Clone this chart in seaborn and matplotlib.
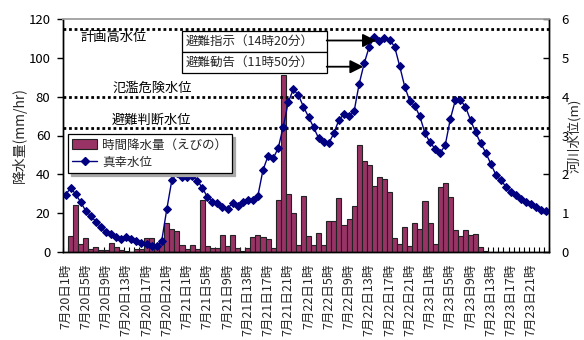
import numpy as np
import pandas as pd
import matplotlib
matplotlib.use("Agg")
import matplotlib.pyplot as plt
import seaborn as sns
from matplotlib.patches import Rectangle, Patch
from matplotlib.lines import Line2D

# ---------------- data ----------------
hour_index = list(range(96))  # 7/20 1時 ... 7/24 0時 (hourly)

tick_labels = [
    "7月20日1時", "7月20日5時", "7月20日9時", "7月20日13時", "7月20日17時", "7月20日21時",
    "7月21日1時", "7月21日5時", "7月21日9時", "7月21日13時", "7月21日17時", "7月21日21時",
    "7月22日1時", "7月22日5時", "7月22日9時", "7月22日13時", "7月22日17時", "7月22日21時",
    "7月23日1時", "7月23日5時", "7月23日9時", "7月23日13時", "7月23日17時", "7月23日21時",
]

rainfall = [
    0, 8, 24, 4, 7, 1.5, 2.5, 1, 1, 4.5, 2.5, 1, 0.5, 0, 1.5, 1.5,
    7, 7, 2, 6, 15, 12, 11, 3.5, 1.5, 3.5, 1.5, 27, 3, 2, 2, 9,
    3, 9, 2, 0.5, 2, 7.5, 8.5, 7.5, 6.5, 2, 27, 91, 30, 20, 3.5, 29,
    8, 3.5, 10, 3.5, 16, 16, 28, 14, 17, 23.5, 55, 47, 45, 34, 38.5, 37.5,
    31, 7, 4, 13, 3, 15, 12, 26.5, 15, 4, 33.5, 35.5, 28.5, 11.5, 8, 11.5,
    8.5, 9.5, 2.5, 0.7, 0, 0, 0, 0, 0, 0, 0, 0, 0, 0, 0, 0,
]

water_level = [
    1.47, 1.65, 1.49, 1.28, 1.06, 0.93, 0.78, 0.64, 0.51, 0.46, 0.39, 0.33, 0.38, 0.33, 0.28, 0.24,
    0.21, 0.15, 0.16, 0.29, 1.10, 1.85, 2.03, 1.94, 1.94, 1.96, 1.84, 1.66, 1.42, 1.30, 1.25, 1.15,
    1.12, 1.26, 1.18, 1.28, 1.34, 1.34, 1.45, 2.11, 2.47, 2.41, 2.67, 3.22, 3.86, 4.19, 4.04, 3.74,
    3.48, 3.21, 2.93, 2.82, 2.80, 3.06, 3.40, 3.55, 3.49, 3.62, 4.33, 4.86, 5.29, 5.53, 5.44, 5.50,
    5.46, 5.29, 4.79, 4.26, 3.89, 3.76, 3.49, 3.06, 2.82, 2.66, 2.55, 2.75, 3.42, 3.91, 3.91, 3.74,
    3.40, 3.08, 2.80, 2.56, 2.27, 1.99, 1.85, 1.68, 1.54, 1.47, 1.36, 1.30, 1.23, 1.15, 1.08, 1.05,
]

threshold_names = ["計画高水位", "氾濫危険水位", "避難判断水位"]
threshold_levels = [5.75, 4.0, 3.2]

event_labels = ["避難指示（14時20分）", "避難勧告（11時50分）"]
event_positions = [61 + 20 / 60, 58 + 50 / 60]  # hour index of 14:20 and 11:50 on 7/22

rain_label = "時間降水量（えびの）"
level_label = "真幸水位"

# ---------------- style ----------------
sns.set_theme(style="white")
plt.rcParams["font.family"] = ["Noto Sans CJK JP", "DejaVu Sans"]
plt.rcParams["axes.unicode_minus"] = False

BAR_COLOR = "#993366"
LINE_COLOR = "#000080"

df = pd.DataFrame({"idx": hour_index, "rain": rainfall, "level": water_level})

W, H = 584, 340
fig = plt.figure(figsize=(W / 100, H / 100), dpi=100)
L, R, T, B = 63, 549, 19, 252
ax = fig.add_axes([L / W, 1 - B / H, (R - L) / W, (B - T) / H])

sns.barplot(data=df, x="idx", y="rain", color=BAR_COLOR, saturation=1, width=1.0,
            edgecolor="#222222", linewidth=0.8, ax=ax)
ax.set_xlim(-0.5, len(hour_index) - 0.5)
ax.set_ylim(0, 120)
ax.set_yticks(range(0, 121, 20))
ax.set_xlabel("")
ax.set_ylabel("降水量(mm/hr)", fontsize=10)
ax.yaxis.set_label_coords((27 - L) / (R - L), 0.5)

ax.set_xticks(list(range(0, len(hour_index), 4)))
ax.set_xticklabels(tick_labels, rotation=90, fontsize=9, va="top", ha="center")
ax.tick_params(axis="x", which="major", length=0, pad=8.5)
ax.set_xticks(np.arange(-0.5, len(hour_index), 1), minor=True)
ax.tick_params(axis="x", which="minor", direction="in", length=3.5, width=0.8,
               bottom=True, color="black")
ax.tick_params(axis="y", direction="out", length=4, width=1, pad=5, labelsize=9.5,
               left=True, colors="black")

ax2 = ax.twinx()
sns.lineplot(data=df, x="idx", y="level", color=LINE_COLOR, linewidth=1,
             marker="D", markersize=4.5, markeredgecolor=LINE_COLOR, ax=ax2)
ax2.set_ylim(0, 6)
ax2.set_xlim(-0.5, len(hour_index) - 0.5)
ax2.set_yticks(range(0, 7))
ax2.set_ylabel("河川水位(m)", fontsize=9.5, rotation=90)
ax2.yaxis.set_label_coords((567.5 - L) / (R - L), 0.5)
ax2.tick_params(axis="y", direction="in", length=4, width=1, pad=9, labelsize=9.5,
                right=True, colors="black")
if ax2.get_legend() is not None:
    ax2.get_legend().remove()

for a in (ax, ax2):
    for s in ("left", "right", "bottom"):
        a.spines[s].set_color("black")
        a.spines[s].set_linewidth(1)
    a.spines["top"].set_color("#a6a6a6")
    a.spines["top"].set_linewidth(1.2)

# threshold lines and labels
label_pos = [(114, 38), (152, 88), (151, 120)]
for lv in threshold_levels:
    ax2.axhline(lv, color="black", lw=2, linestyle=(0, (1, 1)), zorder=1)
for name, (px, py) in zip(threshold_names, label_pos):
    ax2.text((px - L) / (R - L), (B - py) / (B - T), name, transform=ax2.transAxes,
             ha="center", va="center", fontsize=9.5, color="black")

# event boxes and arrows
bx0, bx1 = (181.7 - L) / (R - L), (326.7 - L) / (R - L)
box_tops = [30.7, 51.7]
box_h = 21
arrow_y = [40.5, 66.7]
for lab, pos, top, ay in zip(event_labels, event_positions, box_tops, arrow_y):
    y0 = (B - (top + box_h)) / (B - T)
    hh = box_h / (B - T)
    sh = Rectangle((bx0 + 1.5 / (R - L), y0 - 1.5 / (B - T)), bx1 - bx0, hh,
                   transform=ax2.transAxes, facecolor="#b0b0b0", edgecolor="none",
                   zorder=5, clip_on=False)
    ax2.add_patch(sh)
    rect = Rectangle((bx0, y0), bx1 - bx0, hh, transform=ax2.transAxes,
                     facecolor="white", edgecolor="black", lw=0.9, zorder=6, clip_on=False)
    ax2.add_patch(rect)
    ax2.text(bx0 + 3.5 / (R - L), y0 + hh / 2, lab, transform=ax2.transAxes,
             ha="left", va="center", fontsize=9, zorder=7)
    yf = (B - ay) / (B - T)
    ax2.annotate("", xy=(pos, yf), xycoords=("data", "axes fraction"),
                 xytext=(bx1, yf), textcoords="axes fraction",
                 arrowprops=dict(arrowstyle="-|>,head_length=0.8,head_width=0.4",
                                 color="black", lw=1.3, shrinkA=0, shrinkB=0,
                                 mutation_scale=10), zorder=7)

# legend
handles = [Patch(facecolor=BAR_COLOR, edgecolor="#222222", linewidth=0.8),
           Line2D([], [], color=LINE_COLOR, lw=1, marker="D", markersize=4.5)]
leg = ax2.legend(handles, [rain_label, level_label], loc="upper left",
                 bbox_to_anchor=((68 - L) / (R - L), (B - 134) / (B - T)),
                 frameon=True, fancybox=False, shadow={"color": "#a8a8a8", "alpha": 1},
                 fontsize=9, handlelength=2.0, handleheight=0.8, labelspacing=0.35,
                 borderpad=0.35, handletextpad=0.4, borderaxespad=0, framealpha=1)
leg.get_frame().set_edgecolor("black")
leg.get_frame().set_linewidth(0.9)
leg.set_zorder(8)

fig.savefig("out.png", dpi=100)
